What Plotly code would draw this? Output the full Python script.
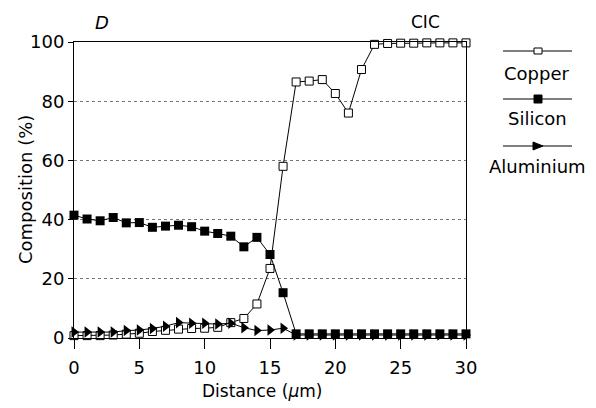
import plotly.graph_objects as go

distance = [0, 1, 2, 3, 4, 5, 6, 7, 8, 9, 10, 11, 12, 13, 14, 15, 16, 17, 18, 19,
            20, 21, 22, 23, 24, 25, 26, 27, 28, 29, 30]
copper = [0.8, 0.8, 0.8, 1.0, 1.3, 1.6, 2.2, 2.6, 3.0, 3.2, 3.3, 3.6, 5.2, 6.6, 11.5,
          23.5, 58.0, 86.5, 86.8, 87.3, 82.6, 76.0, 90.7, 99.2, 99.5, 99.6, 99.6,
          99.7, 99.7, 99.7, 99.7]
silicon = [41.5, 40.2, 39.6, 40.7, 38.9, 39.0, 37.4, 37.8, 38.1, 37.6, 36.1, 35.3,
           34.4, 30.8, 34.0, 28.2, 15.3, 1.4, 1.4, 1.4, 1.4, 1.4, 1.4, 1.4, 1.4,
           1.4, 1.4, 1.4, 1.4, 1.4, 1.4]
aluminium = [2.0, 2.0, 2.0, 2.0, 2.5, 2.7, 3.2, 4.0, 5.2, 5.0, 5.0, 4.7, 5.0, 3.5,
             2.5, 2.7, 3.3, 1.0, 1.0, 1.0, 1.0, 1.0, 1.0, 1.0, 1.0, 1.0, 1.0, 1.0,
             1.0, 1.0, 1.0]
x_ticks = [0, 5, 10, 15, 20, 25, 30]
y_ticks = [0, 20, 40, 60, 80, 100]
series_names = ["Copper", "Silicon", "Aluminium"]

FONT = "DejaVu Sans"
fig = go.Figure()
fig.add_trace(go.Scatter(x=distance, y=copper, mode="lines+markers", name="Copper",
                         line=dict(color="black", width=1), cliponaxis=False,
                         marker=dict(symbol="square", size=8, color="white",
                                     line=dict(color="black", width=1))))
fig.add_trace(go.Scatter(x=distance, y=aluminium, mode="lines+markers", name="Aluminium",
                         line=dict(color="black", width=1), cliponaxis=False,
                         marker=dict(symbol="triangle-right", size=10, color="black")))
fig.add_trace(go.Scatter(x=distance, y=silicon, mode="lines+markers", name="Silicon",
                         line=dict(color="black", width=1), cliponaxis=False,
                         marker=dict(symbol="square", size=9, color="black")))

# plot area in pixels: left 74, right 466, top 42, bottom 338
W, H = 392.0, 296.0
def px(xp):
    return (xp - 74) / W
def py(yp):
    return (338 - yp) / H

shapes = []
annotations = []
leg_y_line = [51, 99, 146]
leg_y_text = [73, 119, 166]
for i, name in enumerate(series_names):
    yl = leg_y_line[i]
    shapes.append(dict(type="line", xref="paper", yref="paper", x0=px(503), x1=px(572),
                       y0=py(yl), y1=py(yl), line=dict(color="black", width=1)))
    if name == "Copper":
        shapes.append(dict(type="rect", xref="paper", yref="paper",
                           x0=px(534), x1=px(542), y0=py(yl + 3), y1=py(yl - 3),
                           fillcolor="white", line=dict(color="black", width=1)))
    elif name == "Silicon":
        shapes.append(dict(type="rect", xref="paper", yref="paper",
                           x0=px(534), x1=px(542), y0=py(yl + 4), y1=py(yl - 4),
                           fillcolor="black", line=dict(color="black", width=1)))
    else:
        shapes.append(dict(type="path", xref="paper", yref="paper",
                           path=f"M {px(533)} {py(yl - 4)} L {px(543)} {py(yl)} L {px(533)} {py(yl + 4)} Z",
                           fillcolor="black", line=dict(color="black", width=1)))
    annotations.append(dict(text=name, xref="paper", yref="paper", x=px(537), y=py(leg_y_text[i]),
                            showarrow=False, xanchor="center", yanchor="middle",
                            font=dict(family=FONT, size=18, color="black")))

annotations.append(dict(text="<i>D</i>", xref="paper", yref="paper", x=px(102), y=py(23),
                        showarrow=False, xanchor="center", yanchor="middle",
                        font=dict(family=FONT, size=18, color="black")))
annotations.append(dict(text="CIC", xref="paper", yref="paper", x=px(425), y=py(22),
                        showarrow=False, xanchor="center", yanchor="middle",
                        font=dict(family=FONT, size=17, color="black")))
annotations.append(dict(text="Composition (%)", xref="paper", yref="paper", x=px(25), y=0.5,
                        showarrow=False, xanchor="center", yanchor="middle", textangle=-90,
                        font=dict(family=FONT, size=18, color="black")))
annotations.append(dict(text="Distance (<i>µ</i>m)", xref="paper", yref="paper", x=px(262), y=py(391),
                        showarrow=False, xanchor="center", yanchor="middle",
                        font=dict(family=FONT, size=17, color="black")))

fig.update_layout(
    width=596, height=408,
    margin=dict(l=74, r=130, t=42, b=70),
    paper_bgcolor="white", plot_bgcolor="white",
    showlegend=False,
    shapes=shapes, annotations=annotations,
    font=dict(family=FONT, size=18, color="black"),
)
fig.update_xaxes(range=[0, 30], tickvals=x_ticks, ticks="outside", ticklen=10,
                 tickcolor="black", showline=True, linecolor="black", linewidth=1,
                 mirror=True, showgrid=False, zeroline=False, ticklabelstandoff=3,
                 tickfont=dict(family=FONT, size=18, color="black"))
fig.update_yaxes(range=[0, 100], tickvals=y_ticks, ticks="outside", ticklen=5,
                 tickcolor="black", showline=True, linecolor="black", linewidth=1,
                 mirror=True, showgrid=True, gridcolor="#777777", griddash="dot",
                 gridwidth=1, zeroline=False,
                 tickfont=dict(family=FONT, size=18, color="black"))

fig.write_html("out.html")
